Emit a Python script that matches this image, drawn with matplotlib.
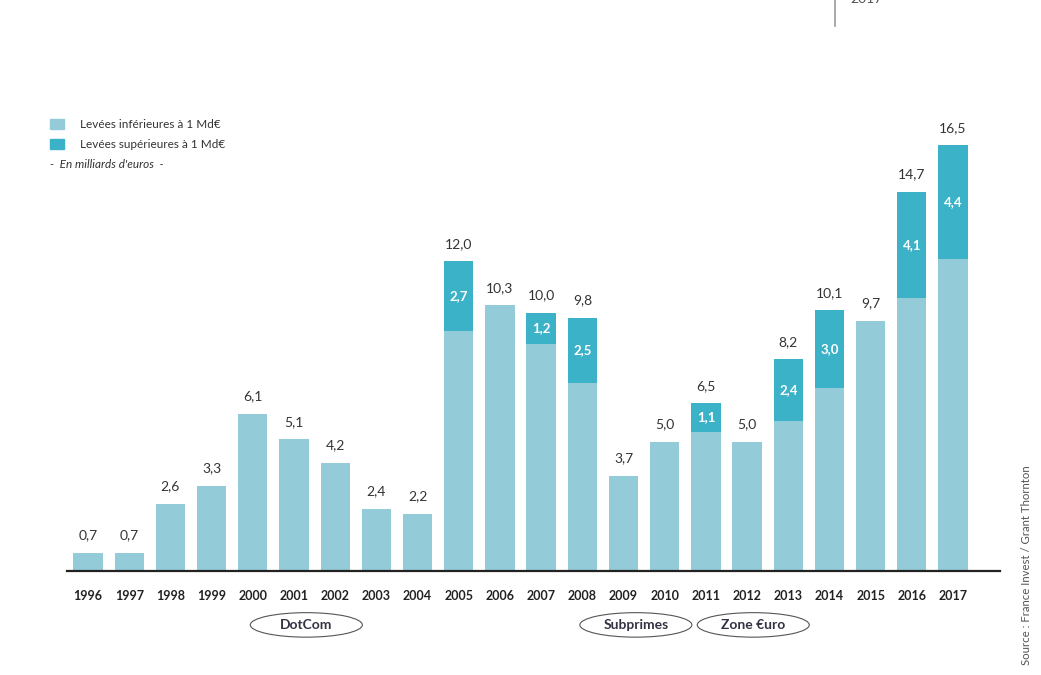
#=======================================================
# Levées de fonds 1996-2017 (barres empilées)
#=======================================================
import numpy as np
import matplotlib.pyplot as plt
from matplotlib.patches import Ellipse, Rectangle

plt.rcParams['font.family'] = ['Lato', 'DejaVu Sans']

##Données
annees = ["1996", "1997", "1998", "1999", "2000", "2001", "2002", "2003",
          "2004", "2005", "2006", "2007", "2008", "2009", "2010", "2011",
          "2012", "2013", "2014", "2015", "2016", "2017"]

totaux = [0.7, 0.7, 2.6, 3.3, 6.1, 5.1, 4.2, 2.4, 2.2, 12.0, 10.3, 10.0,
          9.8, 3.7, 5.0, 6.5, 5.0, 8.2, 10.1, 9.7, 14.7, 16.5]

superieures = [0, 0, 0, 0, 0, 0, 0, 0, 0, 2.7, 0, 1.2,
               2.5, 0, 0, 1.1, 0, 2.4, 3.0, 0, 4.1, 4.4]

crises = ["DotCom", "Subprimes", "Zone €uro"]
crises_pos = [5.3, 13.3, 16.15]
#***************************************************************
inferieures = [t - s for t, s in zip(totaux, superieures)]

clair = "#93CCD8"
fonce = "#3BB2C7"
gris = "#333333"

fig = plt.figure(figsize=(10.41, 6.75), dpi=100)
ax = fig.add_axes([67/1041, (675-571)/675, (1000-67)/1041, (571-100)/675])

x = np.arange(len(annees))
ax.bar(x, inferieures, width=0.71, color=clair)
ax.bar(x, superieures, width=0.71, bottom=inferieures, color=fonce)
ax.set_xlim(-0.51, 22.14)
ax.set_ylim(0, 18.26)

##Axes
for s in ["top", "right", "left"]:
    ax.spines[s].set_visible(False)
ax.spines["bottom"].set_linewidth(1.6)
ax.spines["bottom"].set_color("#222222")
ax.set_yticks([])
ax.set_xticks(x, labels=annees, fontsize=9, fontweight='bold', color="#222222")
ax.tick_params(axis='x', length=0, pad=14)

##Etiquetes
for i in range(len(annees)):
    ax.text(x[i], totaux[i] + 0.45, f"{totaux[i]:.1f}".replace(".", ","),
            ha="center", va="bottom", fontsize=10, color=gris)
    if superieures[i] > 0:
        ax.text(x[i], inferieures[i] + superieures[i]/2,
                f"{superieures[i]:.1f}".replace(".", ","),
                ha="center", va="center", fontsize=9.5, fontweight='bold', color="white")

##Ellipses des crises
for nom, pos in zip(crises, crises_pos):
    ax.add_patch(Ellipse((pos, -2.09), 2.72, 0.95, fill=False, edgecolor="#555555",
                         linewidth=0.8, clip_on=False))
    ax.text(pos, -2.09, nom, ha="center", va="center", fontsize=10,
            fontweight='bold', color="#333344")

##Légende
fig.patches.append(Rectangle((50/1041, 1-129/675), 14/1041, 10/675, color=clair,
                             transform=fig.transFigure))
fig.patches.append(Rectangle((50/1041, 1-149/675), 14/1041, 10/675, color=fonce,
                             transform=fig.transFigure))
fig.text(80/1041, 1-124/675, "Levées inférieures à 1 Md€", fontsize=8.5,
         va="center", color=gris)
fig.text(80/1041, 1-144/675, "Levées supérieures à 1 Md€", fontsize=8.5,
         va="center", color=gris)
fig.text(50/1041, 1-165/675, "-  En milliards d'euros  -", fontsize=8.5,
         va="center", style="italic", color=gris)

##Haut à droite et source
fig.add_artist(plt.Line2D([835/1041, 835/1041], [1, 1-26/675], color="#999999",
                          linewidth=1.2))
fig.text(866/1041, 1-5/675, "2017", fontsize=10, ha="center", va="bottom", color="#555555")
fig.text(1027/1041, 1-565/675, "Source : France Invest / Grant Thornton", rotation=90,
         fontsize=8.2, ha="center", va="center", color="#555555")

fig.savefig("out.png", dpi=100)
